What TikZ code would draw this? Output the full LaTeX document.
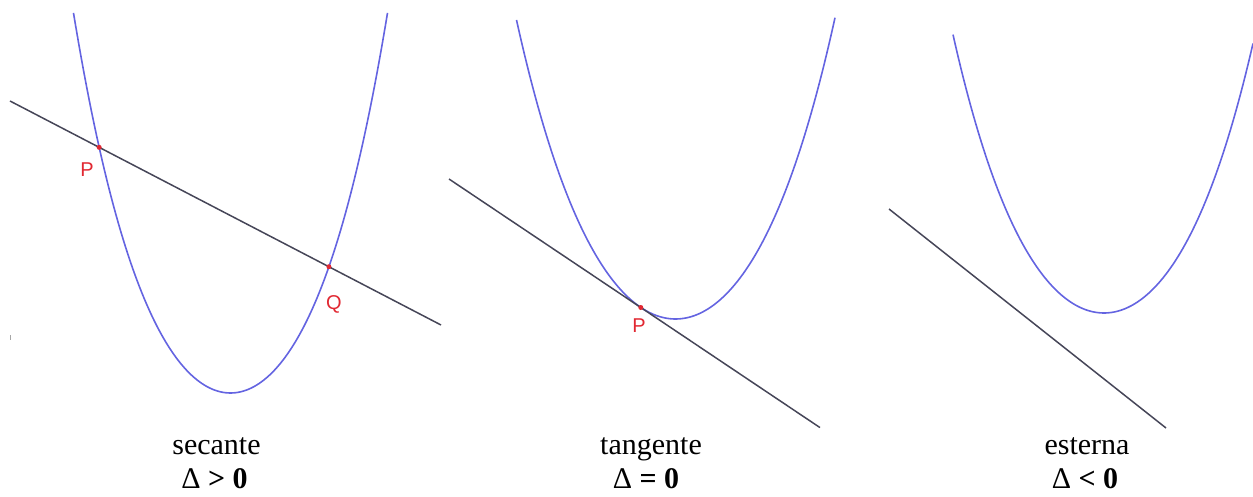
\documentclass[tikz,border=0pt]{standalone}
\usepackage{fontspec}
\setmainfont{Liberation Serif}
\newfontfamily\labelfont{Liberation Sans}
\usetikzlibrary{intersections}
\definecolor{parab}{RGB}{100,100,225}
\definecolor{lin}{RGB}{70,70,88}
\definecolor{ptred}{RGB}{225,40,50}
\begin{document}
\begin{tikzpicture}[x=1pt,y=-1pt,
  parabola/.style={draw=parab, line width=1.6pt},
  secline/.style={draw=lin, line width=1.5pt},
  pt/.style={circle, fill=ptred, inner sep=0pt, minimum size=5pt},
  ptlabel/.style={text=ptred, font=\labelfont\fontsize{20}{20}\selectfont, inner sep=0pt},
  caption/.style={font=\fontsize{30}{32}\selectfont, inner sep=0pt, anchor=base},
  delta/.style={font=\fontsize{30}{32}\selectfont, inner sep=0pt, anchor=base}]
\useasboundingbox (0,0) rectangle (1253,497);

% ---------- panel 1: secante ----------
\draw[parabola, name path=par1] plot[domain=-157:157, samples=121]
  ({230.5+\x}, {393-115*(\x/100)*(\x/100)-15.9*(\x/100)*(\x/100)*(\x/100)*(\x/100)});
\coordinate (L1a) at (10,101);
\coordinate (L1b) at (441,325);
\draw[secline, name path=l1] (L1a) -- (L1b);
\path[name intersections={of=l1 and par1, sort by=l1, by={P1,Q1}}];
\node[pt] (dotP1) at (P1) {};
\node[pt] (dotQ1) at (Q1) {};
\node[ptlabel] (labP1) at (87,170) {P};
\node[ptlabel] (labQ1) at (334,304) {Q};
\coordinate (m1a) at (10,335);
\coordinate (m1b) at (10,340);
\draw[gray!70, line width=1pt] (m1a) -- (m1b);

% ---------- panel 2: tangente ----------
\draw[parabola] plot[domain=-159:159.5, samples=121]
  ({675.5+\x}, {319-94.65*(\x/100)*(\x/100)-9.35*(\x/100)*(\x/100)*(\x/100)*(\x/100)});
\coordinate (L2a) at (449,179);
\coordinate (L2b) at (820,427.6);
\draw[secline] (L2a) -- (L2b);
\coordinate (P2) at (640.8,307.5);
\node[pt] (dotP2) at (P2) {};
\node[ptlabel] (labP2) at (639,326) {P};

% ---------- panel 3: esterna ----------
\draw[parabola] plot[domain=-151:149, samples=121]
  ({1104+\x}, {313-97*(\x/100)*(\x/100)-11*(\x/100)*(\x/100)*(\x/100)*(\x/100)});
\coordinate (L3a) at (889,209);
\coordinate (L3b) at (1166,428);
\draw[secline] (L3a) -- (L3b);

% ---------- captions ----------
\node[caption] (c1) at (216.5,454) {secante};
\node[delta]   (d1) at (214.5,488) {Δ \textbf{> 0}};
\node[caption] (c2) at (651,454) {tangente};
\node[delta]   (d2) at (646,488) {Δ \textbf{= 0}};
\node[caption] (c3) at (1087,454) {esterna};
\node[delta]   (d3) at (1085,488) {Δ \textbf{< 0}};
\end{tikzpicture}
\end{document}
